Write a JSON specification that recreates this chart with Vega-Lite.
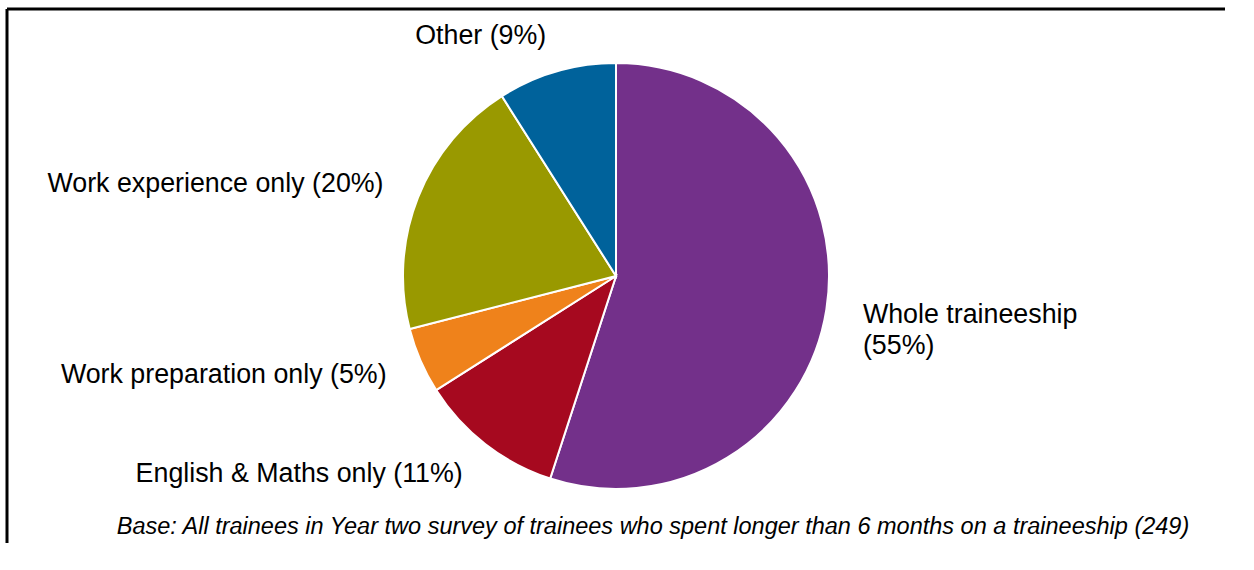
{
  "$schema": "https://vega.github.io/schema/vega-lite/v6.json",
  "width": 1218,
  "height": 534,
  "autosize": {"type": "none"},
  "padding": {"left": 7, "top": 9, "right": 29, "bottom": 27},
  "background": "white",
  "view": {"stroke": "black", "strokeWidth": 3, "strokeDash": [1218, 1752, 534, 0]},
  "config": {
    "font": "Liberation Sans"
  },
  "title": {
    "text": "Base: All trainees in Year two survey of trainees who spent longer than 6 months on a traineeship (249)",
    "orient": "bottom",
    "anchor": "middle",
    "offset": -9,
    "dx": 37,
    "baseline": "alphabetic",
    "font": "Liberation Sans",
    "fontSize": 23.5,
    "fontStyle": "italic",
    "fontWeight": "normal",
    "color": "black"
  },
  "data": {
    "values": [
      {"category": "Whole traineeship", "label": "Whole traineeship\n(55%)", "pct": 55, "order": 1},
      {"category": "English & Maths only", "label": "English & Maths only (11%)", "pct": 11, "order": 2},
      {"category": "Work preparation only", "label": "Work preparation only (5%)", "pct": 5, "order": 3},
      {"category": "Work experience only", "label": "Work experience only (20%)", "pct": 20, "order": 4},
      {"category": "Other", "label": "Other (9%)", "pct": 9, "order": 5}
    ]
  },
  "encoding": {
    "theta": {"field": "pct", "type": "quantitative", "stack": true},
    "order": {"field": "order", "type": "quantitative"},
    "color": {
      "field": "category",
      "type": "nominal",
      "scale": {
        "domain": ["Whole traineeship", "English & Maths only", "Work preparation only", "Work experience only", "Other"],
        "range": ["#73308A", "#A6091F", "#EF821B", "#999900", "#00629B"]
      },
      "legend": null
    }
  },
  "layer": [
    {
      "mark": {"type": "arc", "radius": 213, "stroke": "white", "strokeWidth": 2}
    },
    {
      "mark": {
        "type": "text",
        "radius": 250,
        "fontSize": 26.8,
        "font": "Liberation Sans",
        "lineBreak": "\n",
        "lineHeight": 31,
        "baseline": "middle",
        "align": {"expr": "datum.category === 'Whole traineeship' ? 'left' : 'right'"}
      },
      "encoding": {
        "text": {"field": "label", "type": "nominal"},
        "color": {"value": "black"}
      }
    }
  ]
}
